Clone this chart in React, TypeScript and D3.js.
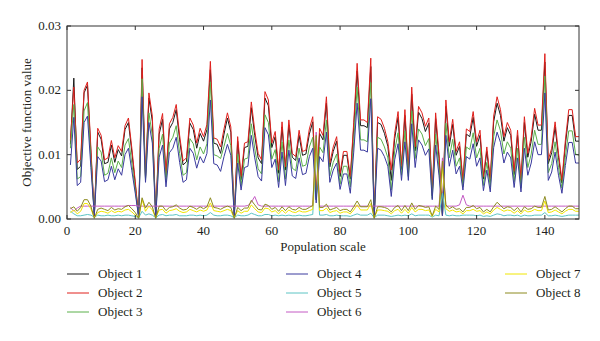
import React from "react";
import * as d3 from "d3";

const object1 = [
  0.0116,0.0219,0.0077,0.0082,0.0196,0.0208,0.0103,0.0005,0.0135,0.0124,
  0.0086,0.0088,0.0115,0.0088,0.0108,0.0098,0.0139,0.0150,0.0104,0.0054,
  0.0003,0.0235,0.0063,0.0188,0.0152,0.0003,0.0132,0.0155,0.0066,0.0140,
  0.0150,0.0170,0.0123,0.0084,0.0089,0.0149,0.0139,0.0110,0.0133,0.0121,
  0.0139,0.0232,0.0118,0.0116,0.0102,0.0132,0.0157,0.0135,0.0005,0.0121,
  0.0061,0.0111,0.0113,0.0173,0.0130,0.0095,0.0086,0.0188,0.0176,0.0111,
  0.0128,0.0071,0.0143,0.0076,0.0146,0.0096,0.0091,0.0130,0.0099,0.0101,
  0.0132,0.0151,0.0030,0.0133,0.0123,0.0180,0.0081,0.0105,0.0121,0.0066,
  0.0099,0.0099,0.0062,0.0142,0.0230,0.0145,0.0145,0.0142,0.0237,0.0003,
  0.0150,0.0147,0.0133,0.0113,0.0060,0.0125,0.0158,0.0077,0.0161,0.0072,
  0.0194,0.0106,0.0166,0.0156,0.0136,0.0149,0.0036,0.0156,0.0094,0.0005,
  0.0175,0.0113,0.0147,0.0099,0.0113,0.0056,0.0132,0.0128,0.0158,0.0113,
  0.0130,0.0062,0.0105,0.0058,0.0151,0.0180,0.0161,0.0121,0.0142,0.0130,
  0.0069,0.0130,0.0055,0.0150,0.0096,0.0121,0.0163,0.0138,0.0138,0.0244,
  0.0086,0.0103,0.0143,0.0096,0.0056,0.0115,0.0161,0.0161,0.0121,0.0121,
];
const object2 = [
  0.0122,0.0205,0.0087,0.0093,0.0200,0.0213,0.0110,0.0005,0.0141,0.0130,
  0.0092,0.0095,0.0122,0.0095,0.0114,0.0105,0.0145,0.0157,0.0110,0.0058,
  0.0003,0.0248,0.0066,0.0196,0.0160,0.0003,0.0140,0.0164,0.0070,0.0148,
  0.0158,0.0178,0.0130,0.0090,0.0095,0.0157,0.0146,0.0118,0.0141,0.0128,
  0.0147,0.0245,0.0126,0.0124,0.0112,0.0140,0.0165,0.0143,0.0005,0.0128,
  0.0066,0.0118,0.0120,0.0182,0.0138,0.0102,0.0092,0.0198,0.0185,0.0118,
  0.0136,0.0076,0.0151,0.0081,0.0154,0.0102,0.0097,0.0138,0.0105,0.0107,
  0.0140,0.0159,0.0035,0.0141,0.0130,0.0190,0.0087,0.0112,0.0128,0.0071,
  0.0105,0.0105,0.0066,0.0150,0.0242,0.0154,0.0154,0.0150,0.0250,0.0003,
  0.0159,0.0155,0.0141,0.0120,0.0076,0.0133,0.0167,0.0082,0.0170,0.0076,
  0.0205,0.0112,0.0175,0.0165,0.0144,0.0157,0.0040,0.0165,0.0100,0.0005,
  0.0185,0.0120,0.0155,0.0105,0.0120,0.0060,0.0140,0.0136,0.0167,0.0120,
  0.0138,0.0066,0.0112,0.0062,0.0160,0.0190,0.0170,0.0128,0.0150,0.0138,
  0.0074,0.0138,0.0060,0.0159,0.0102,0.0128,0.0172,0.0146,0.0146,0.0257,
  0.0092,0.0110,0.0151,0.0102,0.0060,0.0122,0.0170,0.0170,0.0128,0.0128,
];
const object3 = [
  0.0110,0.0178,0.0062,0.0066,0.0168,0.0181,0.0090,0.0006,0.0112,0.0104,
  0.0068,0.0071,0.0095,0.0072,0.0090,0.0080,0.0115,0.0125,0.0086,0.0045,
  0.0003,0.0218,0.0060,0.0165,0.0130,0.0003,0.0110,0.0132,0.0058,0.0118,
  0.0127,0.0145,0.0102,0.0068,0.0072,0.0125,0.0117,0.0092,0.0112,0.0101,
  0.0117,0.0213,0.0100,0.0098,0.0094,0.0113,0.0133,0.0114,0.0005,0.0101,
  0.0052,0.0093,0.0095,0.0148,0.0110,0.0078,0.0070,0.0162,0.0150,0.0093,
  0.0108,0.0058,0.0120,0.0062,0.0123,0.0079,0.0075,0.0110,0.0082,0.0084,
  0.0112,0.0127,0.0030,0.0112,0.0103,0.0154,0.0067,0.0088,0.0101,0.0054,
  0.0082,0.0082,0.0050,0.0120,0.0205,0.0123,0.0123,0.0120,0.0212,0.0003,
  0.0127,0.0124,0.0112,0.0095,0.0045,0.0106,0.0134,0.0068,0.0137,0.0066,
  0.0168,0.0094,0.0140,0.0132,0.0114,0.0125,0.0032,0.0132,0.0078,0.0005,
  0.0149,0.0095,0.0124,0.0082,0.0095,0.0050,0.0112,0.0108,0.0134,0.0095,
  0.0110,0.0052,0.0088,0.0050,0.0128,0.0154,0.0137,0.0101,0.0120,0.0110,
  0.0058,0.0110,0.0048,0.0127,0.0080,0.0101,0.0138,0.0116,0.0116,0.0222,
  0.0072,0.0086,0.0120,0.0080,0.0048,0.0096,0.0137,0.0137,0.0101,0.0099,
];
const object4 = [
  0.0084,0.0158,0.0052,0.0057,0.0150,0.0160,0.0080,0.0006,0.0097,0.0090,
  0.0058,0.0061,0.0082,0.0061,0.0078,0.0068,0.0100,0.0110,0.0075,0.0040,
  0.0003,0.0190,0.0057,0.0150,0.0118,0.0003,0.0096,0.0115,0.0050,0.0103,
  0.0110,0.0127,0.0088,0.0057,0.0061,0.0110,0.0102,0.0079,0.0097,0.0087,
  0.0102,0.0185,0.0086,0.0084,0.0074,0.0097,0.0116,0.0099,0.0005,0.0087,
  0.0045,0.0080,0.0082,0.0130,0.0095,0.0066,0.0059,0.0142,0.0131,0.0080,
  0.0093,0.0049,0.0104,0.0052,0.0107,0.0067,0.0063,0.0095,0.0069,0.0071,
  0.0097,0.0110,0.0025,0.0097,0.0089,0.0135,0.0057,0.0076,0.0087,0.0046,
  0.0070,0.0070,0.0040,0.0104,0.0180,0.0107,0.0107,0.0104,0.0187,0.0003,
  0.0110,0.0107,0.0097,0.0082,0.0035,0.0092,0.0117,0.0060,0.0120,0.0060,
  0.0148,0.0080,0.0123,0.0115,0.0099,0.0109,0.0030,0.0115,0.0067,0.0005,
  0.0130,0.0082,0.0107,0.0070,0.0082,0.0045,0.0097,0.0093,0.0117,0.0082,
  0.0095,0.0044,0.0076,0.0042,0.0111,0.0135,0.0119,0.0087,0.0104,0.0095,
  0.0049,0.0095,0.0042,0.0110,0.0068,0.0087,0.0120,0.0100,0.0100,0.0196,
  0.0060,0.0073,0.0104,0.0068,0.0040,0.0083,0.0119,0.0119,0.0087,0.0087,
];
const object5 = [
  0.0012,0.0008,0.0005,0.0005,0.0006,0.0007,0.0006,0.0003,0.0006,0.0005,
  0.0005,0.0006,0.0005,0.0005,0.0006,0.0005,0.0006,0.0006,0.0005,0.0004,
  0.0002,0.0012,0.0006,0.0008,0.0006,0.0002,0.0006,0.0007,0.0005,0.0006,
  0.0006,0.0007,0.0005,0.0005,0.0005,0.0006,0.0006,0.0005,0.0006,0.0005,
  0.0006,0.0010,0.0006,0.0005,0.0005,0.0006,0.0006,0.0005,0.0002,0.0006,
  0.0005,0.0005,0.0006,0.0009,0.0007,0.0005,0.0005,0.0007,0.0007,0.0005,
  0.0006,0.0005,0.0006,0.0005,0.0006,0.0005,0.0005,0.0006,0.0005,0.0005,
  0.0006,0.0007,0.0110,0.0006,0.0006,0.0007,0.0005,0.0005,0.0006,0.0005,
  0.0005,0.0005,0.0004,0.0006,0.0008,0.0006,0.0006,0.0006,0.0009,0.0002,
  0.0006,0.0006,0.0006,0.0005,0.0004,0.0005,0.0006,0.0005,0.0006,0.0005,
  0.0008,0.0005,0.0006,0.0006,0.0006,0.0006,0.0003,0.0006,0.0005,0.0040,
  0.0006,0.0005,0.0006,0.0005,0.0005,0.0006,0.0006,0.0006,0.0006,0.0005,
  0.0006,0.0004,0.0005,0.0004,0.0006,0.0008,0.0007,0.0005,0.0006,0.0006,
  0.0005,0.0006,0.0004,0.0006,0.0005,0.0005,0.0006,0.0006,0.0006,0.0010,
  0.0005,0.0005,0.0006,0.0005,0.0004,0.0005,0.0006,0.0006,0.0006,0.0006,
];
const object6 = [
  0.0018,0.0012,0.0017,0.0020,0.0020,0.0020,0.0020,0.0020,0.0020,0.0020,
  0.0020,0.0020,0.0020,0.0020,0.0020,0.0020,0.0020,0.0021,0.0021,0.0021,
  0.0020,0.0020,0.0020,0.0020,0.0020,0.0020,0.0020,0.0020,0.0020,0.0020,
  0.0020,0.0020,0.0020,0.0020,0.0020,0.0020,0.0020,0.0020,0.0020,0.0020,
  0.0020,0.0020,0.0020,0.0020,0.0020,0.0020,0.0020,0.0020,0.0020,0.0020,
  0.0020,0.0020,0.0021,0.0026,0.0035,0.0022,0.0020,0.0020,0.0020,0.0020,
  0.0020,0.0020,0.0020,0.0020,0.0020,0.0020,0.0020,0.0020,0.0020,0.0020,
  0.0020,0.0020,0.0135,0.0020,0.0020,0.0020,0.0020,0.0020,0.0020,0.0020,
  0.0020,0.0020,0.0020,0.0020,0.0020,0.0020,0.0020,0.0020,0.0020,0.0020,
  0.0020,0.0020,0.0020,0.0020,0.0020,0.0020,0.0020,0.0020,0.0020,0.0020,
  0.0020,0.0020,0.0020,0.0020,0.0020,0.0020,0.0020,0.0020,0.0020,0.0095,
  0.0020,0.0020,0.0020,0.0020,0.0022,0.0037,0.0022,0.0020,0.0020,0.0020,
  0.0020,0.0020,0.0020,0.0020,0.0020,0.0020,0.0020,0.0020,0.0020,0.0020,
  0.0020,0.0020,0.0020,0.0020,0.0020,0.0020,0.0020,0.0020,0.0020,0.0020,
  0.0020,0.0020,0.0020,0.0020,0.0020,0.0020,0.0020,0.0020,0.0020,0.0020,
];
const object7 = [
  0.0010,0.0014,0.0008,0.0012,0.0024,0.0024,0.0016,0.0002,0.0010,0.0012,
  0.0011,0.0009,0.0013,0.0010,0.0012,0.0011,0.0014,0.0015,0.0011,0.0006,
  0.0002,0.0030,0.0012,0.0020,0.0014,0.0002,0.0014,0.0015,0.0009,0.0013,
  0.0014,0.0016,0.0012,0.0010,0.0011,0.0015,0.0013,0.0011,0.0014,0.0012,
  0.0014,0.0025,0.0013,0.0012,0.0011,0.0013,0.0015,0.0013,0.0002,0.0013,
  0.0009,0.0012,0.0012,0.0022,0.0016,0.0011,0.0010,0.0017,0.0016,0.0011,
  0.0013,0.0008,0.0014,0.0009,0.0014,0.0011,0.0010,0.0013,0.0011,0.0011,
  0.0013,0.0015,0.0120,0.0013,0.0013,0.0017,0.0010,0.0012,0.0013,0.0009,
  0.0011,0.0011,0.0008,0.0014,0.0022,0.0014,0.0014,0.0014,0.0024,0.0002,
  0.0014,0.0014,0.0013,0.0012,0.0008,0.0013,0.0015,0.0009,0.0015,0.0009,
  0.0018,0.0011,0.0015,0.0015,0.0013,0.0014,0.0004,0.0015,0.0011,0.0080,
  0.0016,0.0012,0.0014,0.0011,0.0012,0.0008,0.0013,0.0013,0.0015,0.0012,
  0.0013,0.0008,0.0011,0.0008,0.0014,0.0018,0.0015,0.0012,0.0014,0.0013,
  0.0009,0.0013,0.0008,0.0014,0.0011,0.0012,0.0015,0.0013,0.0013,0.0028,
  0.0010,0.0011,0.0014,0.0011,0.0008,0.0012,0.0015,0.0015,0.0012,0.0012,
];
const object8 = [
  0.0016,0.0019,0.0012,0.0018,0.0030,0.0030,0.0020,0.0001,0.0015,0.0017,
  0.0015,0.0013,0.0018,0.0014,0.0016,0.0015,0.0019,0.0021,0.0016,0.0010,
  0.0001,0.0033,0.0017,0.0026,0.0019,0.0001,0.0020,0.0020,0.0013,0.0018,
  0.0019,0.0022,0.0017,0.0014,0.0015,0.0020,0.0018,0.0015,0.0019,0.0016,
  0.0019,0.0033,0.0018,0.0017,0.0015,0.0018,0.0020,0.0018,0.0001,0.0018,
  0.0013,0.0017,0.0017,0.0029,0.0022,0.0015,0.0014,0.0023,0.0021,0.0015,
  0.0018,0.0012,0.0019,0.0013,0.0019,0.0015,0.0014,0.0018,0.0015,0.0015,
  0.0018,0.0021,0.0130,0.0018,0.0018,0.0023,0.0014,0.0016,0.0018,0.0013,
  0.0015,0.0015,0.0011,0.0019,0.0028,0.0019,0.0019,0.0019,0.0030,0.0001,
  0.0019,0.0019,0.0018,0.0016,0.0011,0.0018,0.0021,0.0013,0.0021,0.0013,
  0.0025,0.0015,0.0021,0.0020,0.0018,0.0019,0.0005,0.0020,0.0015,0.0090,
  0.0022,0.0016,0.0019,0.0015,0.0016,0.0011,0.0018,0.0018,0.0021,0.0016,
  0.0018,0.0011,0.0015,0.0011,0.0019,0.0026,0.0021,0.0016,0.0019,0.0018,
  0.0013,0.0018,0.0011,0.0019,0.0015,0.0016,0.0020,0.0018,0.0018,0.0035,
  0.0014,0.0015,0.0019,0.0015,0.0011,0.0016,0.0020,0.0020,0.0016,0.0016,
];

const seriesNames = ["Object 1", "Object 2", "Object 3", "Object 4", "Object 5", "Object 6", "Object 7", "Object 8"];
const seriesValues = [object1, object2, object3, object4, object5, object6, object7, object8];
const seriesColors = ["#1a1a1a", "#e0201c", "#5bb04a", "#3a3a9e", "#5cc4c4", "#c45ac4", "#f0e600", "#8c8a1e"];
const xTicks = [0, 20, 40, 60, 80, 100, 120, 140];
const yTicks = [0, 0.01, 0.02, 0.03];
const xLabel = "Population scale";
const yLabel = "Objective function value";

const W = 600, H = 341;
const M = { left: 67, right: 579, top: 26, bottom: 219 };
const FONT = "'Liberation Serif', 'DejaVu Serif', serif";
const TXT = "#231f20";

export default function App() {
  const x = d3.scaleLinear().domain([0, 150]).range([M.left, M.right]);
  const y = d3.scaleLinear().domain([0, 0.03]).range([M.bottom, M.top]);
  const line = d3.line<number>().x((_, i) => x(i + 1)).y((d) => y(d));
  const tl = 4;
  const legendCols = [67, 286, 505];
  const legendRows = [274, 293, 312];

  return (
    <svg width={W} height={H} style={{ position: "absolute", left: 0, top: 0, background: "#fff" }}>
      <defs>
        <clipPath id="plotclip">
          <rect x={M.left} y={M.top} width={M.right - M.left} height={M.bottom - M.top} />
        </clipPath>
      </defs>
      <g clipPath="url(#plotclip)">
        {seriesValues.map((vals, k) => (
          <path key={k} d={line(vals) || ""} fill="none" stroke={seriesColors[k]} strokeWidth={1} strokeLinejoin="round" />
        ))}
      </g>
      <rect x={M.left} y={M.top} width={M.right - M.left} height={M.bottom - M.top} fill="none" stroke="#333" strokeWidth={1} />
      {xTicks.map((t) => (
        <g key={"x" + t}>
          <line x1={x(t)} x2={x(t)} y1={M.bottom} y2={M.bottom - tl} stroke="#333" />
          <line x1={x(t)} x2={x(t)} y1={M.top} y2={M.top + tl} stroke="#333" />
          <text x={x(t)} y={235} textAnchor="middle" fontFamily={FONT} fontSize={13} fill={TXT}>{t}</text>
        </g>
      ))}
      {yTicks.map((t) => (
        <g key={"y" + t}>
          <line x1={M.left} x2={M.left + tl} y1={y(t)} y2={y(t)} stroke="#333" />
          <line x1={M.right} x2={M.right - tl} y1={y(t)} y2={y(t)} stroke="#333" />
          <text x={61} y={y(t) + 4} textAnchor="end" fontFamily={FONT} fontSize={13} fill={TXT}>{t.toFixed(2)}</text>
        </g>
      ))}
      <text x={(M.left + M.right) / 2} y={251} textAnchor="middle" fontFamily={FONT} fontSize={13} fill={TXT}>{xLabel}</text>
      <text transform={`translate(31,${(M.top + M.bottom) / 2}) rotate(-90)`} textAnchor="middle" fontFamily={FONT} fontSize={13} fill={TXT}>{yLabel}</text>
      {seriesNames.map((name, k) => {
        const col = Math.floor(k / 3);
        const row = k % 3;
        const lx = legendCols[col];
        const ly = legendRows[row];
        return (
          <g key={name}>
            <line x1={lx} x2={lx + 22} y1={ly} y2={ly} stroke={seriesColors[k]} strokeWidth={1} />
            <text x={lx + 31} y={ly + 4} fontFamily={FONT} fontSize={13} fill={TXT}>{name}</text>
          </g>
        );
      })}
    </svg>
  );
}
